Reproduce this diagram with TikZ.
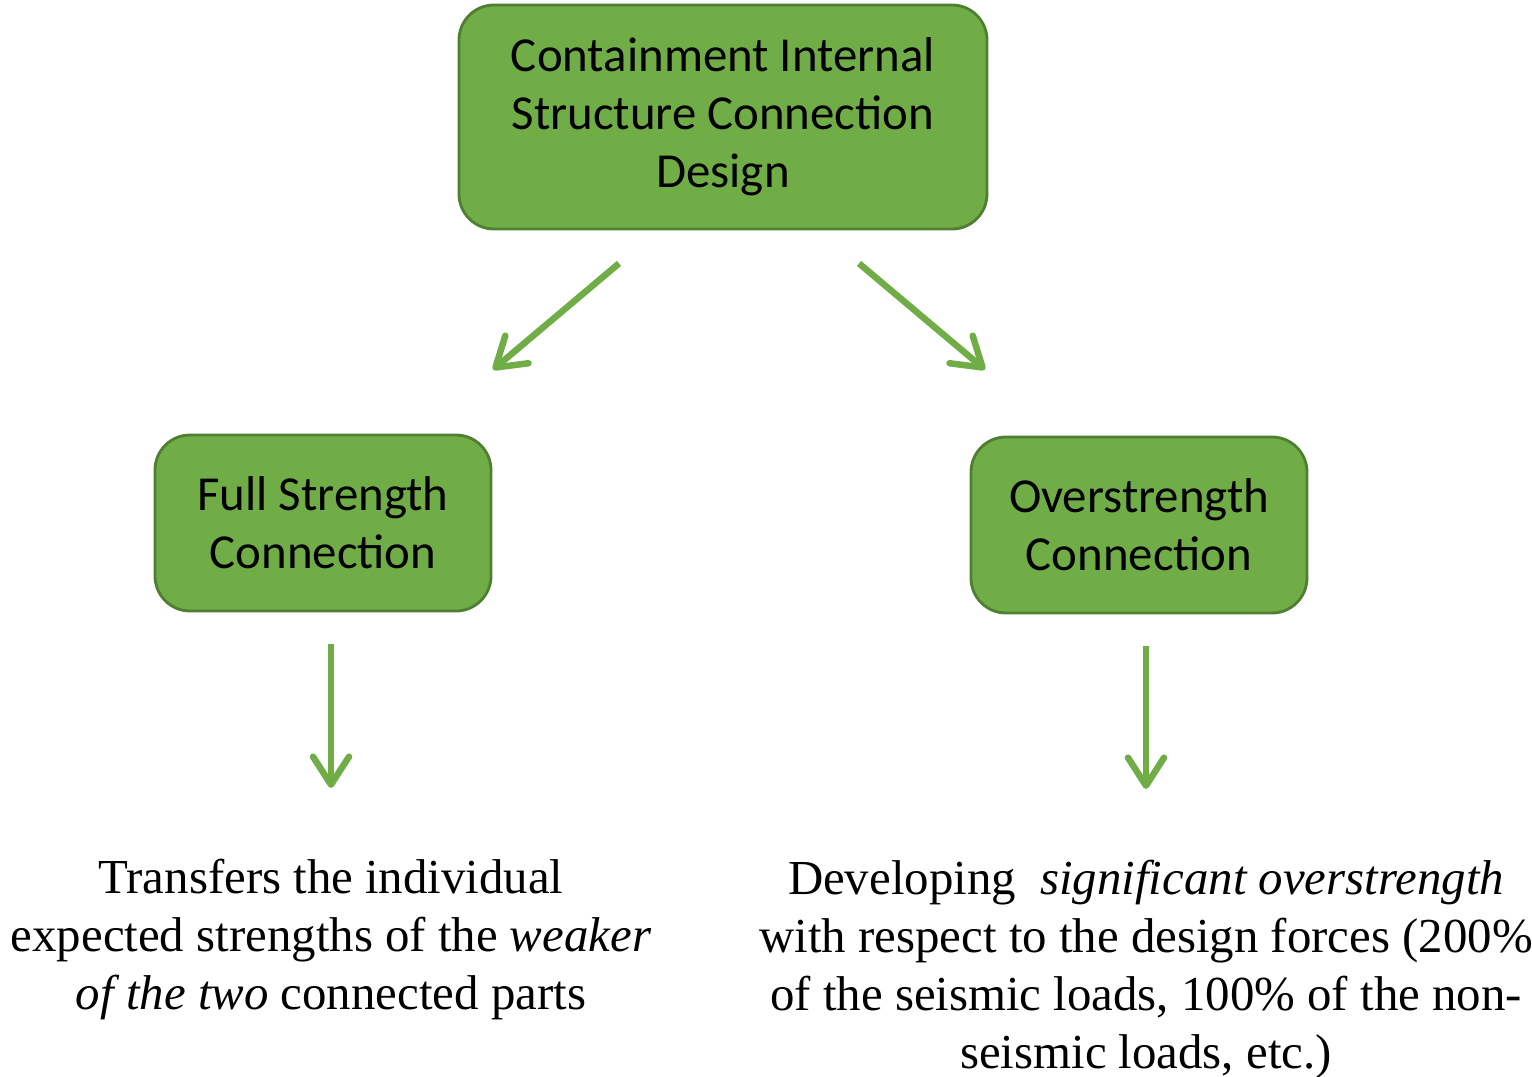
\documentclass[tikz,border=0pt]{standalone}
\usepackage{fontspec}
\setmainfont{Liberation Serif}
\newfontfamily\boxfont{Carlito}
\usetikzlibrary{arrows.meta,positioning}
\definecolor{leaf}{HTML}{70AD47}
\definecolor{leafedge}{HTML}{507E32}
\tikzset{
  box/.style={draw=leafedge, line width=0.8pt, fill=leaf, rounded corners=0.35cm,
    align=center, inner sep=0pt,
    font=\boxfont\fontsize{13.9pt}{16.5pt}\selectfont},
  note/.style={align=center, inner sep=0pt,
    font=\fontsize{13.9pt}{16.5pt}\selectfont},
  flow/.style={draw=leaf, line width=1.85pt,
    -{Straight Barb[length=0.28cm,width=0.36cm,round]}}
}
\begin{document}
\begin{tikzpicture}
  \useasboundingbox (0,0) rectangle (15.32,-10.76);
  % boxes
  \node[box, minimum width=5.28cm, minimum height=2.24cm] (top) at (7.23,-1.17)
    {Containment Internal\\Structure Connection\\Design};
  \node[box, minimum width=3.36cm, minimum height=1.76cm] (left) at (3.23,-5.23)
    {Full Strength\\Connection};
  \node[box, minimum width=3.36cm, minimum height=1.76cm] (right) at (11.39,-5.25)
    {Overstrength\\Connection};
  % notes
  \node[note] (lefttxt) at (3.31,-9.39)
    {Transfers the individual\\expected strengths of the \textit{weaker}\\\textit{of the two} connected parts};
  \node[note] (righttxt) at (11.46,-9.69)
    {Developing\ \ \textit{significant overstrength}\\with respect to the design forces (200\%\\of the seismic loads, 100\% of the non-\\seismic loads, etc.)};
  % arrows
  \draw[flow] ([shift={(-1.04,-0.33)}]top.south) -- ([shift={(1.70,0.64)}]left.north);
  \draw[flow] ([shift={(1.36,-0.33)}]top.south) -- ([shift={(-1.54,0.66)}]right.north);
  \draw[flow] ([yshift=-0.32cm]left.south -| lefttxt.north) -- ([yshift=0.70cm]lefttxt.north);
  \draw[flow] ([yshift=-0.32cm]right.south -| righttxt.north) -- ([yshift=0.70cm]righttxt.north);
\end{tikzpicture}
\end{document}
